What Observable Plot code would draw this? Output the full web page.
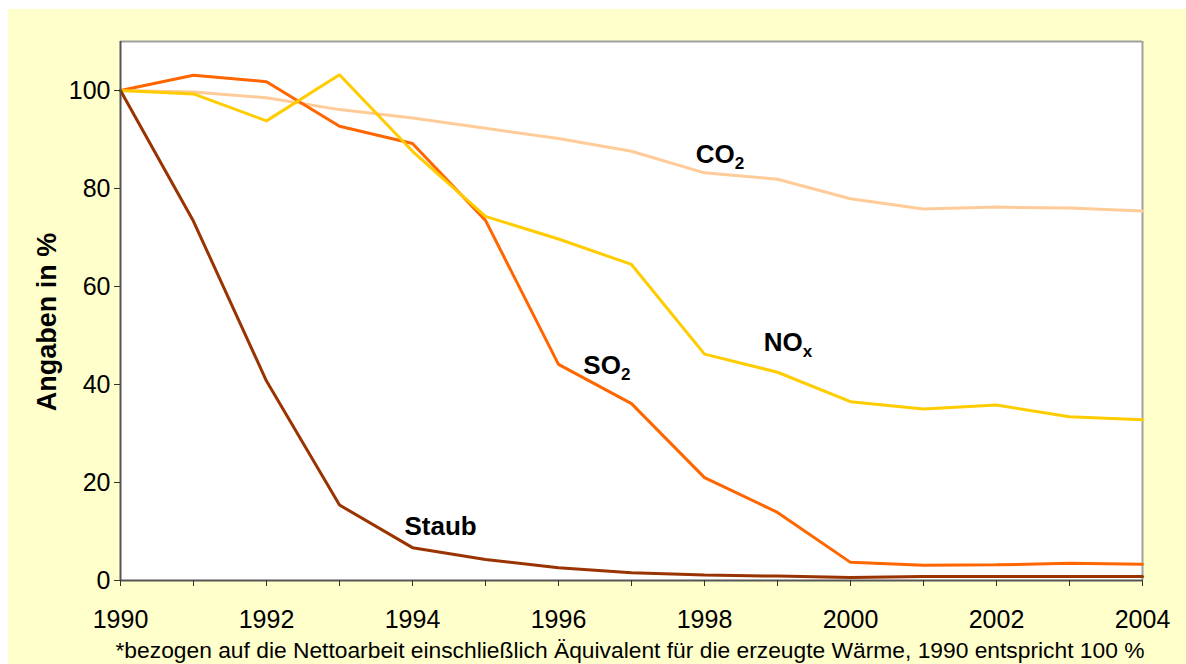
<!DOCTYPE html>
<html>
<head>
<meta charset="utf-8">
<script src="https://cdn.jsdelivr.net/npm/d3@7"></script>
<script src="https://cdn.jsdelivr.net/npm/@observablehq/plot@0.6"></script>
<style>
  html, body { margin: 0; padding: 0; background: #ffffff; }
  #bg { position: absolute; left: 8px; top: 9px; width: 1178px; height: 655px; background: #FFFFCC; overflow: hidden; }
  #chart { position: absolute; left: 0; top: 0; }
  #caption { position: absolute; left: 622px; top: 630px; transform: translateX(-50%); white-space: nowrap;
             font-family: "Liberation Sans", Arial, sans-serif; font-size: 22.8px; line-height: 22px; color: #000; }
</style>
</head>
<body>
<div id="bg">
  <div id="chart"></div>
  <div id="caption">*bezogen auf die Nettoarbeit einschließlich Äquivalent für die erzeugte Wärme, 1990 entspricht 100 %</div>
</div>
<script>
// ---- data ----
const years = [1990, 1991, 1992, 1993, 1994, 1995, 1996, 1997, 1998, 1999, 2000, 2001, 2002, 2003, 2004];
const co2   = [100, 99.7, 98.5, 96.1, 94.4, 92.3, 90.2, 87.6, 83.2, 81.9, 77.9, 75.8, 76.2, 76.0, 75.4];
const so2   = [100, 103.1, 101.8, 92.7, 89.2, 73.5, 44.1, 36.1, 21.0, 13.9, 3.7, 3.1, 3.2, 3.5, 3.3];
const nox   = [100, 99.3, 93.8, 103.2, 87.6, 74.3, 69.7, 64.5, 46.2, 42.5, 36.5, 35.0, 35.8, 33.4, 32.8];
const staub = [100, 73.3, 40.7, 15.4, 6.7, 4.3, 2.6, 1.6, 1.1, 0.9, 0.6, 0.8, 0.8, 0.8, 0.8];

const seriesNames  = ["CO2", "SO2", "NOx", "Staub"];
const seriesColors = ["#FFCC99", "#FF6600", "#FFCC00", "#993300"];
const seriesValues = [co2, so2, nox, staub];

const yTicks = [0, 20, 40, 60, 80, 100];
const xLabelYears = [1990, 1992, 1994, 1996, 1998, 2000, 2002, 2004];

// in-chart labels (main text, subscript, anchor in data units)
const labelMain = ["CO", "NO", "SO", "Staub"];
const labelSub  = ["2", "x", "2", ""];
const labelYear = [1997.88, 1998.81, 1996.34, 1993.89];
const labelVal  = [85.3, 46.9, 42.2, 9.2];

const yLabel = "Angaben in %";

// ---- build table ----
const table = seriesNames.flatMap((s, i) => years.map((yr, j) => ({series: s, year: yr, value: seriesValues[i][j]})));
const labels = labelMain.map((t, i) => ({text: t, sub: labelSub[i], year: labelYear[i], value: labelVal[i]}));

const font = "'Liberation Sans', Arial, Helvetica, sans-serif";

const chart = Plot.plot({
  width: 1178,
  height: 630,
  marginLeft: 112,
  marginRight: 44,
  marginTop: 32,
  marginBottom: 59,
  style: {background: "transparent", fontFamily: font, color: "#000", overflow: "visible"},
  x: {domain: [1990, 2004]},
  y: {domain: [0, 110]},
  color: {domain: seriesNames, range: seriesColors},
  marks: [
    Plot.frame({fill: "#ffffff", stroke: null}),
    Plot.ruleY([110], {stroke: "#A0A0A0", strokeWidth: 2}),
    Plot.ruleX([2004], {stroke: "#A0A0A0", strokeWidth: 2}),
    Plot.line(table, {x: "year", y: "value", z: "series", stroke: "series", strokeWidth: 3, strokeLinejoin: "miter"}),
    Plot.ruleX([1990], {y1: 0, y2: 110, stroke: "#555555", strokeWidth: 2}),
    Plot.ruleY([0], {stroke: "#555555", strokeWidth: 2}),
    Plot.axisY({ticks: yTicks, tickSize: 6, tickPadding: 4, fontSize: 25, label: null, tickFormat: d => String(d), stroke: "#333"}),
    Plot.axisX({ticks: years, tickSize: 6, tickPadding: 24, fontSize: 25, label: null, stroke: "#333",
                tickFormat: d => xLabelYears.includes(d) ? String(d) : ""}),
    Plot.text(labels, {x: "year", y: "value", text: "text", textAnchor: "start", lineAnchor: "bottom",
                       fontSize: 26, fontWeight: "bold", fill: "#000"}),
    Plot.text([yLabel], {frameAnchor: "left", rotate: -90, dx: -73, dy: 11, fontSize: 27, fontWeight: "bold",
                          fill: "#000", textAnchor: "middle", lineAnchor: "middle"})
  ]
});

document.getElementById("chart").appendChild(chart);

// add subscripts to series labels
chart.querySelectorAll("text").forEach(t => {
  const idx = labelMain.indexOf(t.textContent);
  if (idx >= 0 && labelSub[idx]) {
    const ts = document.createElementNS("http://www.w3.org/2000/svg", "tspan");
    ts.setAttribute("font-size", "17");
    ts.setAttribute("dy", "6");
    ts.textContent = labelSub[idx];
    t.appendChild(ts);
  }
});
</script>
</body>
</html>
